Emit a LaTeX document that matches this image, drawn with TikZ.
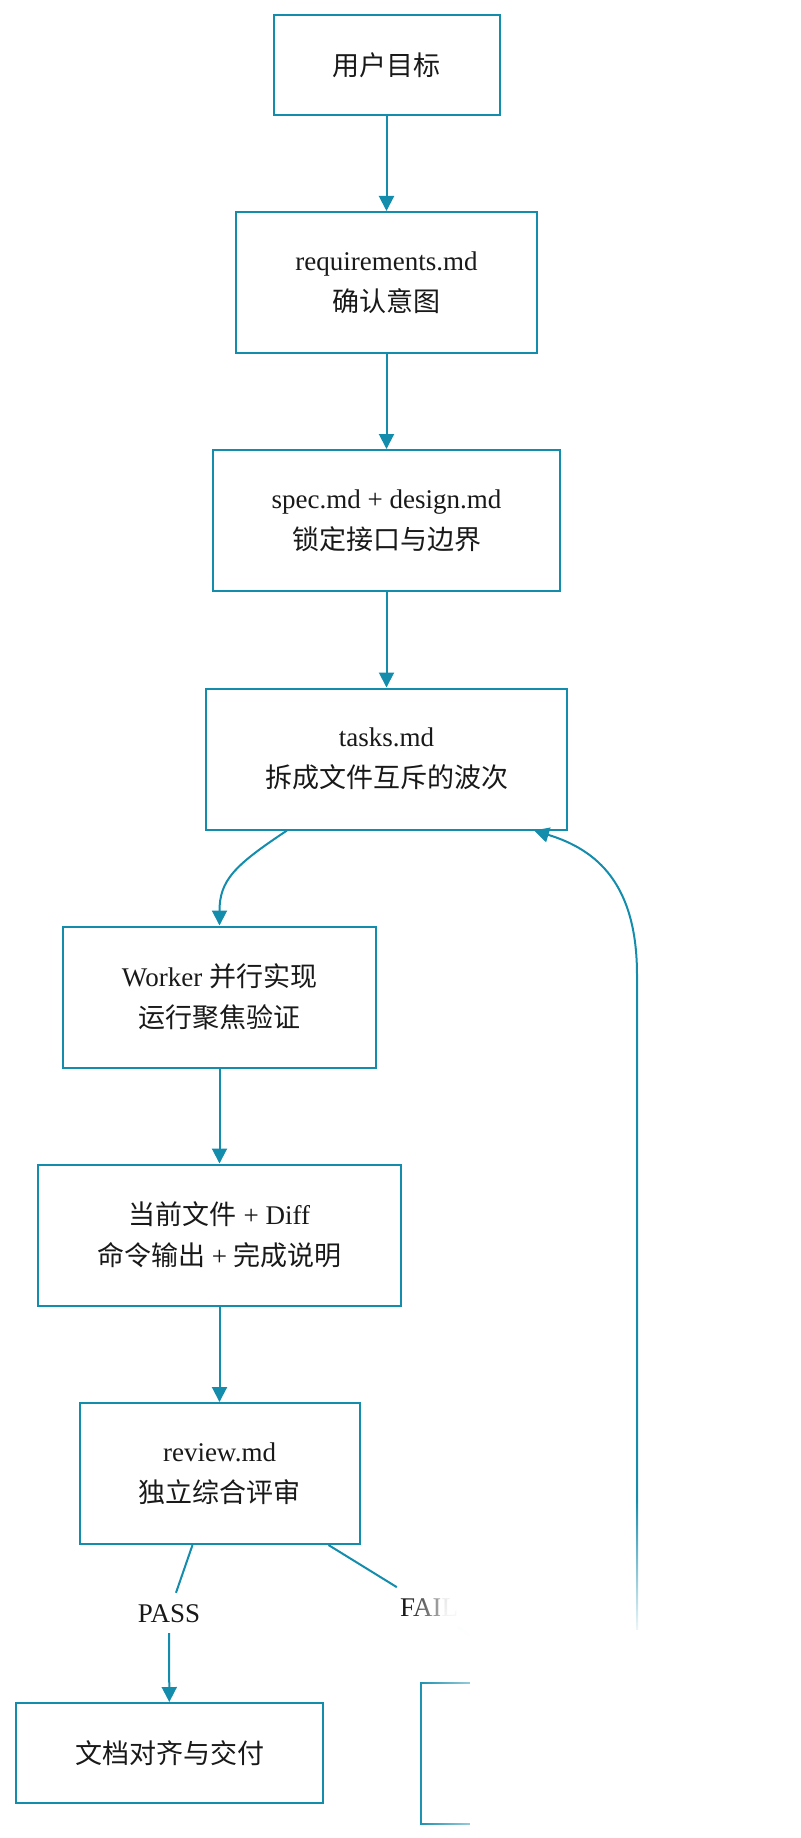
\documentclass[tikz,border=0pt]{standalone}
\usepackage{fontspec}
\setmainfont{Liberation Serif}
\newfontfamily\cjk{Noto Sans CJK SC}
\usetikzlibrary{positioning}
\usetikzlibrary{arrows.meta}
\usetikzlibrary{fadings}
\definecolor{flowteal}{RGB}{20,140,172}
\tikzset{
    mybox/.style = {rectangle, line width=2pt, draw=flowteal, align=center, fill=white, inner xsep=59pt, inner ysep=4pt, minimum height=100pt, font=\fontsize{27}{41}\selectfont, text=black!90},
    myboxt/.style = {mybox, minimum height=141pt},
    mylabel/.style = {inner xsep=3pt, inner ysep=11pt, text height=18pt, text depth=0pt, font=\fontsize{27}{41}\selectfont, text=black!90},
    edget/.style = {-{Triangle[length=15pt,width=15pt]}, line width=2pt, flowteal},
    edgel/.style = {-, line width=2pt, flowteal},
}
\begin{document}
\begin{tikzpicture}[x=1pt,y=-1pt]
\useasboundingbox (0,0) rectangle (800,1838);
%
\node[mybox] at (386.5,65) (goal) {{\cjk 用户目标}};
\node[myboxt] at (386.5,282.5) (req) {requirements.md\\{\cjk 确认意图}};
\node[myboxt] at (386.5,520.5) (spec) {spec.md + design.md\\{\cjk 锁定接口与边界}};
\node[myboxt] at (386.5,759) (tasks) {tasks.md\\{\cjk 拆成文件互斥的波次}};
\node[myboxt] at (219.5,997) (worker) {Worker {\cjk 并行实现}\\{\cjk 运行聚焦验证}};
\node[myboxt] at (219.5,1235) (diff) {{\cjk 当前文件} + Diff\\{\cjk 命令输出} + {\cjk 完成说明}};
\node[myboxt] at (219.5,1473.5) (review) {review.md\\{\cjk 独立综合评审}};
\node[mybox] at (169.5,1753) (deliver) {{\cjk 文档对齐与交付}};
\node[myboxt, minimum width=432pt, inner xsep=0pt] at (637,1753) (fix) {};
%
\node[mylabel] at (169,1613) (pass) {PASS};
\node[mylabel] at (429,1607) (fail) {FAIL};
%
\draw[edget] (goal) -- (req);
\draw[edget] (req) -- (spec);
\draw[edget] (spec) -- (tasks);
\draw[edget] ([xshift=82pt]tasks.south west) .. controls (235,865) and (219.5,880) .. (worker.north);
\draw[edget] (worker) -- (diff);
\draw[edget] (diff) -- (review);
\draw[edgel] ([xshift=114pt]review.south west) -- (pass);
\draw[edget] (pass) -- (deliver);
\draw[edgel] ([xshift=-32pt]review.south east) -- (fail);
\draw[edget] (fail) -- (fix);
\draw[edget] (fix.north) -- (637,975) .. controls (637,885) and (598,850) .. ([xshift=-34pt]tasks.south east);
%
% faded corner
\fill[white, path fading=west] (405,1585) rectangle (475,1682);
\fill[white, path fading=west] (415,1595) rectangle (515,1845);
\fill[white, path fading=north] (440,1500) rectangle (810,1640);
\fill[white] (470,1630) rectangle (810,1845);
\end{tikzpicture}
\end{document}
